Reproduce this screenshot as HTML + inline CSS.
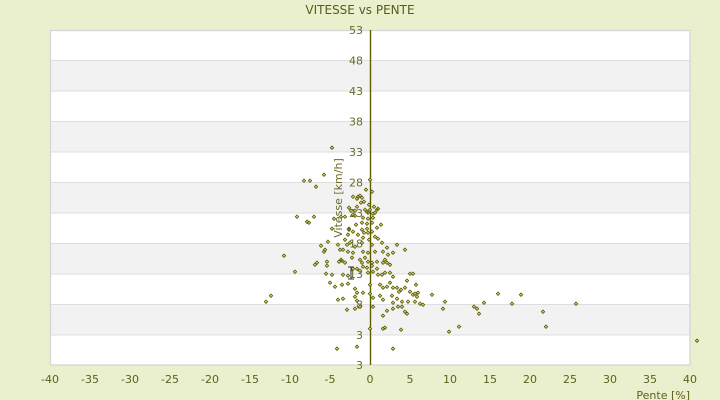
<!DOCTYPE html>
<html><head><meta charset="utf-8"><style>
html,body{margin:0;padding:0;background:#eaf0cd;}
svg{display:block;}
text{font-family:"DejaVu Sans","Liberation Sans",sans-serif;}
</style></head><body>
<svg width="720" height="400" viewBox="0 0 720 400" xmlns="http://www.w3.org/2000/svg">
<rect x="0" y="0" width="720" height="400" fill="#eaf0cd"/>
<text x="360" y="14" text-anchor="middle" font-size="12" fill="#5a5a1a">VITESSE vs PENTE</text>
<rect x="50" y="30" width="640" height="335" fill="#ffffff"/>
<g fill="#f2f2f2">
<rect x="50" y="60.45" width="640" height="30.45"/>
<rect x="50" y="121.4" width="640" height="30.45"/>
<rect x="50" y="182.3" width="640" height="30.45"/>
<rect x="50" y="243.2" width="640" height="30.45"/>
<rect x="50" y="304.1" width="640" height="30.45"/>
</g>
<g stroke="#dedede" stroke-width="1">
<line x1="50" y1="60.5" x2="690" y2="60.5"/>
<line x1="50" y1="91" x2="690" y2="91"/>
<line x1="50" y1="121.5" x2="690" y2="121.5"/>
<line x1="50" y1="152" x2="690" y2="152"/>
<line x1="50" y1="182.5" x2="690" y2="182.5"/>
<line x1="50" y1="213" x2="690" y2="213"/>
<line x1="50" y1="243.5" x2="690" y2="243.5"/>
<line x1="50" y1="274" x2="690" y2="274"/>
<line x1="50" y1="304.5" x2="690" y2="304.5"/>
<line x1="50" y1="335" x2="690" y2="335"/>
</g>
<rect x="50.5" y="30.5" width="639.5" height="334.5" fill="none" stroke="#d6d6d6" stroke-width="1.3"/>
<line x1="370.5" y1="30" x2="370.5" y2="365" stroke="#5c5c00" stroke-width="1.4"/>
<g font-size="11" fill="#6a6a28" text-anchor="end">
<text x="363" y="34">53</text>
<text x="363" y="64.5">48</text>
<text x="363" y="95">43</text>
<text x="363" y="125.5">38</text>
<text x="363" y="156">33</text>
<text x="363" y="186.5">28</text>
<text x="363" y="217">23</text>
<text x="363" y="247.5">18</text>
<text x="363" y="278">13</text>
<text x="363" y="308.5">8</text>
<text x="363" y="339">3</text>
<text x="363" y="369">3</text>
</g>
<path fill="#d8d890" stroke="#5c5c00" stroke-width="0.8" d="
M332,146l1.7,1.7-1.7,1.7-1.7-1.7z M324,173l1.7,1.7-1.7,1.7-1.7-1.7z M304,179l1.7,1.7-1.7,1.7-1.7-1.7z M310,179l1.7,1.7-1.7,1.7-1.7-1.7z M316,185l1.7,1.7-1.7,1.7-1.7-1.7z
M297,215l1.7,1.7-1.7,1.7-1.7-1.7z M307,220l1.7,1.7-1.7,1.7-1.7-1.7z M309,221l1.7,1.7-1.7,1.7-1.7-1.7z M314,215l1.7,1.7-1.7,1.7-1.7-1.7z M334,217l1.7,1.7-1.7,1.7-1.7-1.7z
M332,227l1.7,1.7-1.7,1.7-1.7-1.7z M341,215l1.7,1.7-1.7,1.7-1.7-1.7z M349,227l1.7,1.7-1.7,1.7-1.7-1.7z
M360,194l1.7,1.7-1.7,1.7-1.7-1.7z M358,195l1.7,1.7-1.7,1.7-1.7-1.7z M357,197l1.7,1.7-1.7,1.7-1.7-1.7z M362,196l1.7,1.7-1.7,1.7-1.7-1.7z M370,178l1.7,1.7-1.7,1.7-1.7-1.7z
M370,208l1.7,1.7-1.7,1.7-1.7-1.7z M365,208l1.7,1.7-1.7,1.7-1.7-1.7z M367,210l1.7,1.7-1.7,1.7-1.7-1.7z M373,212l1.7,1.7-1.7,1.7-1.7-1.7z M377,208l1.7,1.7-1.7,1.7-1.7-1.7z
M378,207l1.7,1.7-1.7,1.7-1.7-1.7z M357,205l1.7,1.7-1.7,1.7-1.7-1.7z M353,195l1.7,1.7-1.7,1.7-1.7-1.7z M361,201l1.7,1.7-1.7,1.7-1.7-1.7z M353,213l1.7,1.7-1.7,1.7-1.7-1.7z
M349,206l1.7,1.7-1.7,1.7-1.7-1.7z M351,209l1.7,1.7-1.7,1.7-1.7-1.7z M355,209l1.7,1.7-1.7,1.7-1.7-1.7z M368,211l1.7,1.7-1.7,1.7-1.7-1.7z M375,211l1.7,1.7-1.7,1.7-1.7-1.7z
M345,215l1.7,1.7-1.7,1.7-1.7-1.7z M355,214l1.7,1.7-1.7,1.7-1.7-1.7z M363,216l1.7,1.7-1.7,1.7-1.7-1.7z M368,217l1.7,1.7-1.7,1.7-1.7-1.7z M373,216l1.7,1.7-1.7,1.7-1.7-1.7z
M356,223l1.7,1.7-1.7,1.7-1.7-1.7z M362,221l1.7,1.7-1.7,1.7-1.7-1.7z M367,222l1.7,1.7-1.7,1.7-1.7-1.7z M372,221l1.7,1.7-1.7,1.7-1.7-1.7z M381,223l1.7,1.7-1.7,1.7-1.7-1.7z
M349,228l1.7,1.7-1.7,1.7-1.7-1.7z M353,230l1.7,1.7-1.7,1.7-1.7-1.7z M362,228l1.7,1.7-1.7,1.7-1.7-1.7z M367,227l1.7,1.7-1.7,1.7-1.7-1.7z M372,230l1.7,1.7-1.7,1.7-1.7-1.7z M377,226l1.7,1.7-1.7,1.7-1.7-1.7z
M348,233l1.7,1.7-1.7,1.7-1.7-1.7z M358,233l1.7,1.7-1.7,1.7-1.7-1.7z M364,231l1.7,1.7-1.7,1.7-1.7-1.7z M368,231l1.7,1.7-1.7,1.7-1.7-1.7z M375,235l1.7,1.7-1.7,1.7-1.7-1.7z
M345,238l1.7,1.7-1.7,1.7-1.7-1.7z M350,241l1.7,1.7-1.7,1.7-1.7-1.7z M363,236l1.7,1.7-1.7,1.7-1.7-1.7z M369,238l1.7,1.7-1.7,1.7-1.7-1.7z M378,237l1.7,1.7-1.7,1.7-1.7-1.7z
M338,243l1.7,1.7-1.7,1.7-1.7-1.7z M347,243l1.7,1.7-1.7,1.7-1.7-1.7z M355,245l1.7,1.7-1.7,1.7-1.7-1.7z M362,241l1.7,1.7-1.7,1.7-1.7-1.7z M372,243l1.7,1.7-1.7,1.7-1.7-1.7z M382,241l1.7,1.7-1.7,1.7-1.7-1.7z
M387,246l1.7,1.7-1.7,1.7-1.7-1.7z M397,243l1.7,1.7-1.7,1.7-1.7-1.7z M405,248l1.7,1.7-1.7,1.7-1.7-1.7z
M340,248l1.7,1.7-1.7,1.7-1.7-1.7z M348,250l1.7,1.7-1.7,1.7-1.7-1.7z M353,251l1.7,1.7-1.7,1.7-1.7-1.7z M363,250l1.7,1.7-1.7,1.7-1.7-1.7z M368,251l1.7,1.7-1.7,1.7-1.7-1.7z M375,250l1.7,1.7-1.7,1.7-1.7-1.7z
M383,250l1.7,1.7-1.7,1.7-1.7-1.7z M388,253l1.7,1.7-1.7,1.7-1.7-1.7z M393,251l1.7,1.7-1.7,1.7-1.7-1.7z
M341,258l1.7,1.7-1.7,1.7-1.7-1.7z M345,261l1.7,1.7-1.7,1.7-1.7-1.7z M352,256l1.7,1.7-1.7,1.7-1.7-1.7z M360,258l1.7,1.7-1.7,1.7-1.7-1.7z M365,256l1.7,1.7-1.7,1.7-1.7-1.7z M368,260l1.7,1.7-1.7,1.7-1.7-1.7z
M377,260l1.7,1.7-1.7,1.7-1.7-1.7z M385,258l1.7,1.7-1.7,1.7-1.7-1.7z M387,261l1.7,1.7-1.7,1.7-1.7-1.7z M390,263l1.7,1.7-1.7,1.7-1.7-1.7z
M353,267l1.7,1.7-1.7,1.7-1.7-1.7z M357,267l1.7,1.7-1.7,1.7-1.7-1.7z M363,265l1.7,1.7-1.7,1.7-1.7-1.7z M367,266l1.7,1.7-1.7,1.7-1.7-1.7z M372,264l1.7,1.7-1.7,1.7-1.7-1.7z M377,267l1.7,1.7-1.7,1.7-1.7-1.7z
M327,260l1.7,1.7-1.7,1.7-1.7-1.7z M342,259l1.7,1.7-1.7,1.7-1.7-1.7z M362,261l1.7,1.7-1.7,1.7-1.7-1.7z
M372,261l1.7,1.7-1.7,1.7-1.7-1.7z M383,261l1.7,1.7-1.7,1.7-1.7-1.7z
M326,272l1.7,1.7-1.7,1.7-1.7-1.7z M332,273l1.7,1.7-1.7,1.7-1.7-1.7z M343,273l1.7,1.7-1.7,1.7-1.7-1.7z M348,274l1.7,1.7-1.7,1.7-1.7-1.7z
M360,269l1.7,1.7-1.7,1.7-1.7-1.7z M368,271l1.7,1.7-1.7,1.7-1.7-1.7z M373,270l1.7,1.7-1.7,1.7-1.7-1.7z M378,273l1.7,1.7-1.7,1.7-1.7-1.7z M382,273l1.7,1.7-1.7,1.7-1.7-1.7z
M385,271l1.7,1.7-1.7,1.7-1.7-1.7z M390,271l1.7,1.7-1.7,1.7-1.7-1.7z M393,275l1.7,1.7-1.7,1.7-1.7-1.7z M410,272l1.7,1.7-1.7,1.7-1.7-1.7z M413,272l1.7,1.7-1.7,1.7-1.7-1.7z
M330,281l1.7,1.7-1.7,1.7-1.7-1.7z M335,285l1.7,1.7-1.7,1.7-1.7-1.7z M342,283l1.7,1.7-1.7,1.7-1.7-1.7z M348,282l1.7,1.7-1.7,1.7-1.7-1.7z
M355,287l1.7,1.7-1.7,1.7-1.7-1.7z M357,291l1.7,1.7-1.7,1.7-1.7-1.7z M363,291l1.7,1.7-1.7,1.7-1.7-1.7z M370,283l1.7,1.7-1.7,1.7-1.7-1.7z M370,292l1.7,1.7-1.7,1.7-1.7-1.7z M380,283l1.7,1.7-1.7,1.7-1.7-1.7z
M383,286l1.7,1.7-1.7,1.7-1.7-1.7z M387,285l1.7,1.7-1.7,1.7-1.7-1.7z M390,281l1.7,1.7-1.7,1.7-1.7-1.7z M393,286l1.7,1.7-1.7,1.7-1.7-1.7z
M397,286l1.7,1.7-1.7,1.7-1.7-1.7z M399,290l1.7,1.7-1.7,1.7-1.7-1.7z M401,288l1.7,1.7-1.7,1.7-1.7-1.7z M407,279l1.7,1.7-1.7,1.7-1.7-1.7z M405,286l1.7,1.7-1.7,1.7-1.7-1.7z
M410,290l1.7,1.7-1.7,1.7-1.7-1.7z M413,293l1.7,1.7-1.7,1.7-1.7-1.7z M418,291l1.7,1.7-1.7,1.7-1.7-1.7z
M338,298l1.7,1.7-1.7,1.7-1.7-1.7z M343,297l1.7,1.7-1.7,1.7-1.7-1.7z M355,295l1.7,1.7-1.7,1.7-1.7-1.7z M357,299l1.7,1.7-1.7,1.7-1.7-1.7z M373,296l1.7,1.7-1.7,1.7-1.7-1.7z M380,294l1.7,1.7-1.7,1.7-1.7-1.7z
M383,298l1.7,1.7-1.7,1.7-1.7-1.7z M392,294l1.7,1.7-1.7,1.7-1.7-1.7z M393,301l1.7,1.7-1.7,1.7-1.7-1.7z M397,297l1.7,1.7-1.7,1.7-1.7-1.7z M402,300l1.7,1.7-1.7,1.7-1.7-1.7z
M408,300l1.7,1.7-1.7,1.7-1.7-1.7z M415,300l1.7,1.7-1.7,1.7-1.7-1.7z M417,295l1.7,1.7-1.7,1.7-1.7-1.7z M420,302l1.7,1.7-1.7,1.7-1.7-1.7z
M347,308l1.7,1.7-1.7,1.7-1.7-1.7z M355,307l1.7,1.7-1.7,1.7-1.7-1.7z M360,305l1.7,1.7-1.7,1.7-1.7-1.7z M373,305l1.7,1.7-1.7,1.7-1.7-1.7z M387,309l1.7,1.7-1.7,1.7-1.7-1.7z M393,307l1.7,1.7-1.7,1.7-1.7-1.7z
M398,305l1.7,1.7-1.7,1.7-1.7-1.7z M402,305l1.7,1.7-1.7,1.7-1.7-1.7z M405,310l1.7,1.7-1.7,1.7-1.7-1.7z M407,312l1.7,1.7-1.7,1.7-1.7-1.7z
M383,314l1.7,1.7-1.7,1.7-1.7-1.7z M370,327l1.7,1.7-1.7,1.7-1.7-1.7z M385,326l1.7,1.7-1.7,1.7-1.7-1.7z M383,327l1.7,1.7-1.7,1.7-1.7-1.7z M401,328l1.7,1.7-1.7,1.7-1.7-1.7z
M337,347l1.7,1.7-1.7,1.7-1.7-1.7z M357,345l1.7,1.7-1.7,1.7-1.7-1.7z M393,347l1.7,1.7-1.7,1.7-1.7-1.7z
M284,254l1.7,1.7-1.7,1.7-1.7-1.7z M295,270l1.7,1.7-1.7,1.7-1.7-1.7z M315,263l1.7,1.7-1.7,1.7-1.7-1.7z M317,261l1.7,1.7-1.7,1.7-1.7-1.7z M327,264l1.7,1.7-1.7,1.7-1.7-1.7z
M271,294l1.7,1.7-1.7,1.7-1.7-1.7z M266,300l1.7,1.7-1.7,1.7-1.7-1.7z
M416,283l1.7,1.7-1.7,1.7-1.7-1.7z M415,292l1.7,1.7-1.7,1.7-1.7-1.7z
M432,293l1.7,1.7-1.7,1.7-1.7-1.7z M423,303l1.7,1.7-1.7,1.7-1.7-1.7z M445,300l1.7,1.7-1.7,1.7-1.7-1.7z M443,307l1.7,1.7-1.7,1.7-1.7-1.7z
M484,301l1.7,1.7-1.7,1.7-1.7-1.7z M498,292l1.7,1.7-1.7,1.7-1.7-1.7z M474,305l1.7,1.7-1.7,1.7-1.7-1.7z M477,307l1.7,1.7-1.7,1.7-1.7-1.7z M479,312l1.7,1.7-1.7,1.7-1.7-1.7z
M512,302l1.7,1.7-1.7,1.7-1.7-1.7z M521,293l1.7,1.7-1.7,1.7-1.7-1.7z M543,310l1.7,1.7-1.7,1.7-1.7-1.7z M546,325l1.7,1.7-1.7,1.7-1.7-1.7z M576,302l1.7,1.7-1.7,1.7-1.7-1.7z
M449,330l1.7,1.7-1.7,1.7-1.7-1.7z M459,325l1.7,1.7-1.7,1.7-1.7-1.7z M697,339l1.7,1.7-1.7,1.7-1.7-1.7z
M328,240l1.7,1.7-1.7,1.7-1.7-1.7z M321,244l1.7,1.7-1.7,1.7-1.7-1.7z M325,248l1.7,1.7-1.7,1.7-1.7-1.7z
M343,248l1.7,1.7-1.7,1.7-1.7-1.7z M324,250l1.7,1.7-1.7,1.7-1.7-1.7z M339,260l1.7,1.7-1.7,1.7-1.7-1.7z
M366,188l1.7,1.7-1.7,1.7-1.7-1.7z M372,190l1.7,1.7-1.7,1.7-1.7-1.7z M364,200l1.7,1.7-1.7,1.7-1.7-1.7z M369,203l1.7,1.7-1.7,1.7-1.7-1.7z M374,205l1.7,1.7-1.7,1.7-1.7-1.7z
"/>
<path d="M348,267h6M351,267v12M348,279h6" stroke="#333" stroke-width="1" fill="none"/>
<text transform="translate(342,198) rotate(-90)" text-anchor="middle" font-size="11" fill="#6a6a28">Vitesse [km/h]</text>
<g font-size="11" fill="#5e5e1e" text-anchor="middle">
<text x="50" y="383">-40</text>
<text x="90" y="383">-35</text>
<text x="130" y="383">-30</text>
<text x="170" y="383">-25</text>
<text x="210" y="383">-20</text>
<text x="250" y="383">-15</text>
<text x="290" y="383">-10</text>
<text x="330" y="383">-5</text>
<text x="370" y="383">0</text>
<text x="410" y="383">5</text>
<text x="450" y="383">10</text>
<text x="490" y="383">15</text>
<text x="530" y="383">20</text>
<text x="570" y="383">25</text>
<text x="610" y="383">30</text>
<text x="650" y="383">35</text>
<text x="690" y="383">40</text>
</g>
<text x="690" y="399" text-anchor="end" font-size="11" fill="#5e5e1e">Pente [%]</text>
</svg>
</body></html>
